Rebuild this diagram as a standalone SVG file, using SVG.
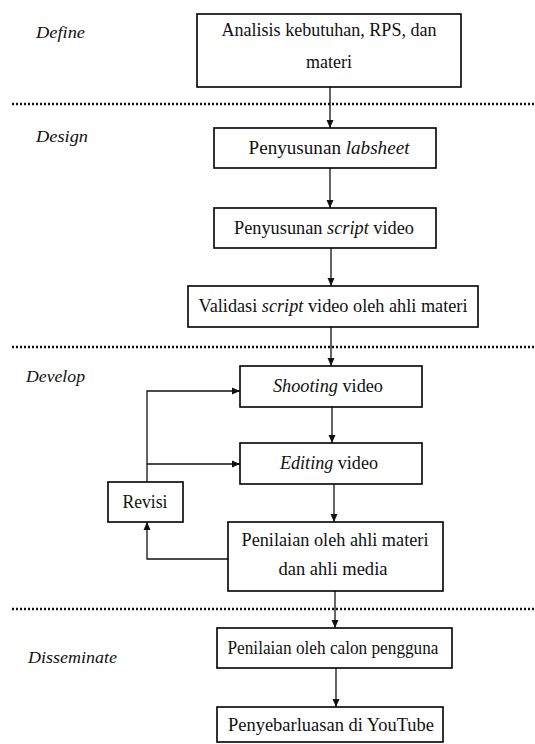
<svg xmlns="http://www.w3.org/2000/svg" width="535" height="744" viewBox="0 0 535 744">
<style>
.box{fill:#fff;stroke:#000;stroke-width:1.6}
.t{font-family:"Liberation Serif","Times New Roman",serif;font-size:18px;fill:#111;text-anchor:middle}
.lbl{font-family:"Liberation Serif","Times New Roman",serif;font-size:17.5px;font-style:italic;fill:#111}
.dot{stroke:#111;stroke-width:2.5;stroke-dasharray:2 2;fill:none}
.ln{stroke:#111;stroke-width:1.3;fill:none}
</style>
<defs>
<marker id="ah" markerWidth="8" markerHeight="9" refX="8" refY="4" orient="auto" markerUnits="userSpaceOnUse">
<path d="M0,0.5 L8,4 L0,7.5 Z" fill="#111"/>
</marker>
</defs>
<rect width="535" height="744" fill="#fff"/>
<g id="phases">
<text class="lbl" x="36" y="38" textLength="49" lengthAdjust="spacingAndGlyphs">Define</text>
<text class="lbl" x="36" y="142" textLength="52" lengthAdjust="spacingAndGlyphs">Design</text>
<text class="lbl" x="26" y="382" textLength="59" lengthAdjust="spacingAndGlyphs">Develop</text>
<text class="lbl" x="28" y="663" textLength="89" lengthAdjust="spacingAndGlyphs">Disseminate</text>
<line class="dot" x1="12" y1="104" x2="535" y2="104"/>
<line class="dot" x1="12" y1="347" x2="535" y2="347"/>
<line class="dot" x1="12" y1="609" x2="535" y2="609"/>
</g>
<g id="connectors">
<line class="ln" x1="330" y1="87" x2="330" y2="128" marker-end="url(#ah)"/>
<line class="ln" x1="330" y1="168" x2="330" y2="208" marker-end="url(#ah)"/>
<line class="ln" x1="331" y1="248" x2="331" y2="286" marker-end="url(#ah)"/>
<line class="ln" x1="331" y1="327" x2="331" y2="366" marker-end="url(#ah)"/>
<line class="ln" x1="332" y1="407" x2="332" y2="443" marker-end="url(#ah)"/>
<line class="ln" x1="334" y1="484" x2="334" y2="522" marker-end="url(#ah)"/>
<line class="ln" x1="335" y1="591" x2="335" y2="628" marker-end="url(#ah)"/>
<line class="ln" x1="336" y1="668" x2="336" y2="707" marker-end="url(#ah)"/>
<polyline class="ln" points="147,482 147,391 240,391" marker-end="url(#ah)"/>
<line class="ln" x1="147" y1="464" x2="240" y2="464" marker-end="url(#ah)"/>
<polyline class="ln" points="228,559 147,559 147,522" marker-end="url(#ah)"/>
</g>
<g id="n1"><rect class="box" x="197" y="14" width="264" height="73"/>
<text class="t" x="329" y="36" textLength="215" lengthAdjust="spacingAndGlyphs">Analisis kebutuhan, RPS, dan</text>
<text class="t" x="329" y="68">materi</text></g>
<g id="n2"><rect class="box" x="214" y="128" width="222" height="40"/>
<text class="t" x="329" y="154" textLength="161" lengthAdjust="spacingAndGlyphs">Penyusunan <tspan font-style="italic">labsheet</tspan></text></g>
<g id="n3"><rect class="box" x="214" y="208" width="222" height="40"/>
<text class="t" x="324" y="234" textLength="180" lengthAdjust="spacingAndGlyphs">Penyusunan <tspan font-style="italic">script</tspan> video</text></g>
<g id="n4"><rect class="box" x="188" y="286" width="290" height="41"/>
<text class="t" x="333" y="312" textLength="269" lengthAdjust="spacingAndGlyphs">Validasi <tspan font-style="italic">script</tspan> video oleh ahli materi</text></g>
<g id="n5"><rect class="box" x="240" y="366" width="182" height="41"/>
<text class="t" x="328" y="392" textLength="110" lengthAdjust="spacingAndGlyphs"><tspan font-style="italic">Shooting</tspan> video</text></g>
<g id="n6"><rect class="box" x="240" y="443" width="182" height="41"/>
<text class="t" x="329" y="469" textLength="98" lengthAdjust="spacingAndGlyphs"><tspan font-style="italic">Editing</tspan> video</text></g>
<g id="n7"><rect class="box" x="108" y="482" width="75" height="40"/>
<text class="t" x="145" y="508" textLength="45" lengthAdjust="spacingAndGlyphs">Revisi</text></g>
<g id="n8"><rect class="box" x="228" y="522" width="215" height="69"/>
<text class="t" x="335" y="546" textLength="187" lengthAdjust="spacingAndGlyphs">Penilaian oleh ahli materi</text>
<text class="t" x="333" y="575" textLength="109" lengthAdjust="spacingAndGlyphs">dan ahli media</text></g>
<g id="n9"><rect class="box" x="217" y="628" width="235" height="40"/>
<text class="t" x="333" y="654" textLength="211" lengthAdjust="spacingAndGlyphs">Penilaian oleh calon pengguna</text></g>
<g id="n10"><rect class="box" x="217" y="707" width="226" height="35"/>
<text class="t" x="331" y="731" textLength="206" lengthAdjust="spacingAndGlyphs">Penyebarluasan di YouTube</text></g>
</svg>
